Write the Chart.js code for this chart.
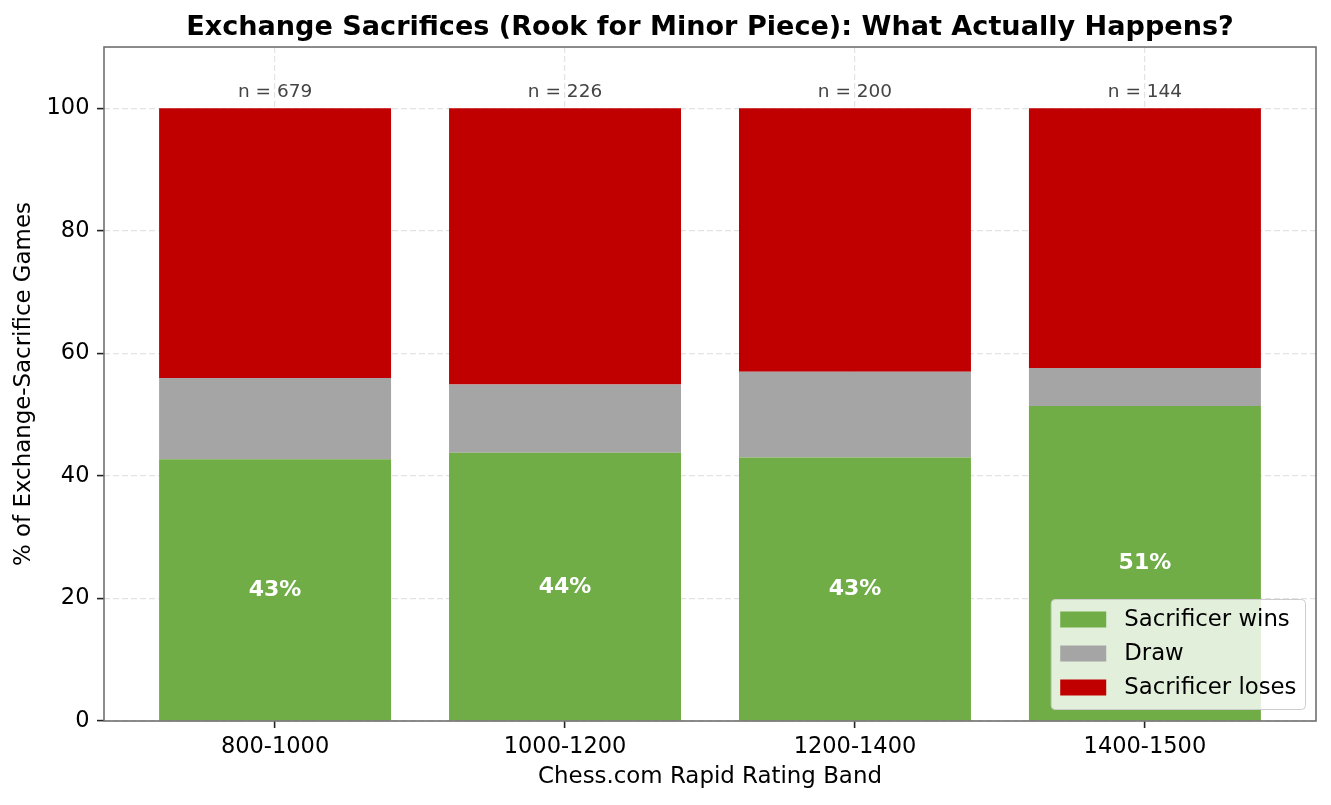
<!DOCTYPE html>
<html>
<head>
<meta charset="utf-8">
<script src="https://cdn.jsdelivr.net/npm/chart.js@4.4.1/dist/chart.umd.min.js"></script>
<style>
  html, body { margin: 0; padding: 0; background: #fff; }
  #wrap { width: 1331px; height: 805px; }
</style>
</head>
<body>
<div id="wrap"><canvas id="c" width="1331" height="805"></canvas></div>
<script>
const categories = ['800-1000', '1000-1200', '1200-1400', '1400-1500'];
const sampleSizes = [679, 226, 200, 144];
const winPct = [42.7, 43.8, 43.0, 51.4];
const drawPct = [13.3, 11.1, 14.0, 6.2];
const lossPct = [44.0, 45.1, 43.0, 42.4];
const seriesNames = ['Sacrificer wins', 'Draw', 'Sacrificer loses'];
const seriesColors = ['#70AD47', '#A5A5A5', '#C00000'];
const yTickValues = [0, 20, 40, 60, 80, 100];

const FONT = "'DejaVu Sans', sans-serif";

function toPoints(arr) { return arr.map((v, i) => ({ x: i, y: v })); }

const framePlugin = {
  id: 'frame',
  afterDatasetsDraw(chart) {
    const { ctx, chartArea: a } = chart;
    ctx.save();
    ctx.strokeStyle = '#707070';
    ctx.lineWidth = 1.6;
    ctx.strokeRect(a.left, a.top, a.right - a.left, a.bottom - a.top);
    ctx.restore();
  }
};

const labelsPlugin = {
  id: 'barLabels',
  afterDatasetsDraw(chart) {
    const { ctx } = chart;
    const xs = chart.scales.x, ys = chart.scales.y;
    ctx.save();
    ctx.textAlign = 'center';
    ctx.textBaseline = 'middle';
    ctx.fillStyle = '#ffffff';
    ctx.font = 'bold 22px ' + FONT;
    winPct.forEach((v, i) => {
      ctx.fillText(Math.round(v) + '%', xs.getPixelForValue(i), ys.getPixelForValue(v / 2));
    });
    ctx.fillStyle = '#444444';
    ctx.font = '18.5px ' + FONT;
    sampleSizes.forEach((n, i) => {
      const total = winPct[i] + drawPct[i] + lossPct[i];
      ctx.fillText('n = ' + n, xs.getPixelForValue(i), ys.getPixelForValue(total + 2.7));
    });
    ctx.restore();
  }
};

const legendPlugin = {
  id: 'boxLegend',
  afterDraw(chart) {
    const { ctx, chartArea: a } = chart;
    const ds = chart.data.datasets;
    ctx.save();
    ctx.font = '22.8px ' + FONT;
    const maxW = Math.max(...ds.map(d => ctx.measureText(d.label).width));
    const padX = 9, swW = 46, swH = 16, gap = 18, rowH = 34;
    const boxW = padX + swW + gap + maxW + padX;
    const boxH = 20 + rowH * (ds.length - 1) + 22;
    const right = a.right - 10.5, bottom = a.bottom - 11.5;
    const left = right - boxW, top = bottom - boxH;
    ctx.beginPath();
    ctx.roundRect(left, top, boxW, boxH, 4);
    ctx.fillStyle = 'rgba(255,255,255,0.8)';
    ctx.fill();
    ctx.strokeStyle = '#cccccc';
    ctx.lineWidth = 1;
    ctx.stroke();
    ds.forEach((d, i) => {
      const cy = top + 20 + rowH * i;
      ctx.fillStyle = d.backgroundColor;
      ctx.fillRect(left + padX, cy - swH / 2, swW, swH);
      ctx.fillStyle = '#000000';
      ctx.textAlign = 'left';
      ctx.textBaseline = 'middle';
      ctx.fillText(d.label, left + padX + swW + gap, cy + 1);
    });
    ctx.restore();
  }
};

const gridCommon = {
  color: '#e3e3e3',
  lineWidth: 1.2,
  tickColor: '#222222',
  tickWidth: 1.6,
  tickLength: 7,
  tickBorderDash: [],
  offset: false
};

new Chart(document.getElementById('c'), {
  type: 'bar',
  data: {
    datasets: [
      { label: seriesNames[0], data: toPoints(winPct), backgroundColor: seriesColors[0] },
      { label: seriesNames[1], data: toPoints(drawPct), backgroundColor: seriesColors[1] },
      { label: seriesNames[2], data: toPoints(lossPct), backgroundColor: seriesColors[2] }
    ]
  },
  options: {
    responsive: false,
    animation: false,
    devicePixelRatio: 1,
    categoryPercentage: 0.8,
    barPercentage: 1.0,
    layout: { padding: { left: 0, right: 15, top: 0, bottom: 0 } },
    plugins: {
      legend: { display: false },
      tooltip: { enabled: false },
      title: {
        display: true,
        text: 'Exchange Sacrifices (Rook for Minor Piece): What Actually Happens?',
        fullSize: false,
        color: '#000000',
        font: { family: FONT, size: 27.1, weight: 'bold', lineHeight: 1.2 },
        padding: { top: 11.5, bottom: 3 }
      }
    },
    scales: {
      x: {
        type: 'linear',
        stacked: true,
        offset: false,
        min: -0.59,
        max: 3.59,
        afterBuildTicks: s => { s.ticks = categories.map((c, i) => ({ value: i })); },
        afterFit: s => { s.height = 84; },
        ticks: {
          callback: v => categories[v],
          color: '#000000',
          font: { family: FONT, size: 22.5 },
          padding: 5.5,
          maxRotation: 0,
          autoSkip: false
        },
        grid: gridCommon,
        border: { display: false, dash: [6, 3] },
        title: {
          display: true,
          text: 'Chess.com Rapid Rating Band',
          color: '#000000',
          font: { family: FONT, size: 22.9 },
          padding: { top: 0, bottom: 14 }
        }
      },
      y: {
        stacked: true,
        min: 0,
        max: 110,
        afterBuildTicks: s => { s.ticks = yTickValues.map(v => ({ value: v })); },
        afterFit: s => { s.width = 104; },
        ticks: {
          color: '#000000',
          font: { family: FONT, size: 22.5 },
          padding: 7.5
        },
        grid: gridCommon,
        border: { display: false, dash: [6, 3] },
        title: {
          display: true,
          text: '% of Exchange-Sacrifice Games',
          color: '#000000',
          font: { family: FONT, size: 22.9 },
          padding: { top: 10, bottom: 0 }
        }
      }
    }
  },
  plugins: [framePlugin, labelsPlugin, legendPlugin]
});
</script>
</body>
</html>
